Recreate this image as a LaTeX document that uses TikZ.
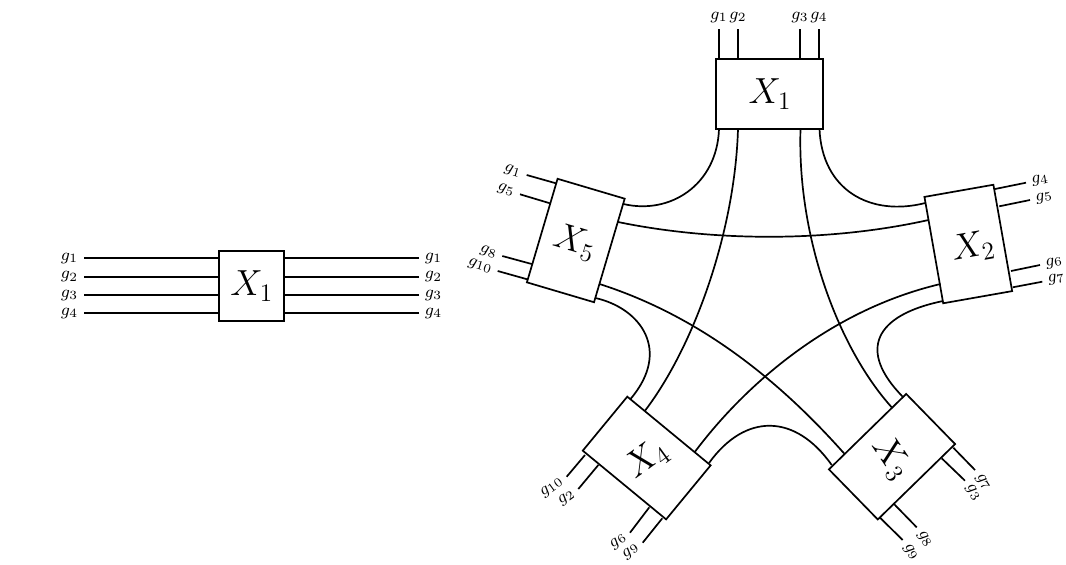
\documentclass[tikz,border=0pt]{standalone}
\usepackage{amsmath}
\usepackage{tikz}
\tikzset{
  gatebox/.style={draw, line width=0.85pt, inner sep=0pt},
  gatetext/.style={inner sep=0pt, font=\LARGE, scale=1.05},
  wirelabel/.style={inner xsep=2.6pt, inner ysep=1.8pt, text height=4.6pt, text depth=2.6pt, font=\footnotesize, scale=1.05},
  wire/.style={line width=0.85pt},
}

\begin{document}
\begin{tikzpicture}[x=0.5pt, y=-0.5pt]
  \useasboundingbox (0,0) rectangle (1066,564);

  \node [gatebox, minimum width=32.5pt, minimum height=35pt] (x0) at (251.7,286) {};
  \node [gatetext] (t0) at (x0) {\(X_1\)};
  \node [wirelabel, anchor=east] (l1) at (84,258) {\(g_1\)};
  \node [wirelabel, anchor=east] (l2) at (84,276.8) {\(g_2\)};
  \node [wirelabel, anchor=east] (l3) at (84,295) {\(g_3\)};
  \node [wirelabel, anchor=east] (l4) at (84,313) {\(g_4\)};
  \node [wirelabel, anchor=west] (r1) at (419,258) {\(g_1\)};
  \node [wirelabel, anchor=west] (r2) at (419,276.8) {\(g_2\)};
  \node [wirelabel, anchor=west] (r3) at (419,295) {\(g_3\)};
  \node [wirelabel, anchor=west] (r4) at (419,313) {\(g_4\)};
  \draw [wire] (l1.east) -- (l1.east -| x0.west) (l2.east) -- (l2.east -| x0.west);
  \draw [wire] (l3.east) -- (l3.east -| x0.west) (l4.east) -- (l4.east -| x0.west);
  \draw [wire] (r1.west) -- (r1.west -| x0.east) (r2.west) -- (r2.west -| x0.east);
  \draw [wire] (r3.west) -- (r3.west -| x0.east) (r4.west) -- (r4.west -| x0.east);

  \node [gatebox, minimum width=53.5pt, minimum height=35pt] (x1) at (769.5,94) {};
  \node [gatebox, minimum width=35pt, minimum height=54pt, rotate=10] (x2) at (968.3,244) {};
  \node [gatebox, minimum width=35pt, minimum height=54pt, rotate=-45.7] (x3) at (892,456.7) {};
  \node [gatebox, minimum width=35pt, minimum height=54pt, rotate=50.5] (x4) at (646.7,458) {};
  \node [gatebox, minimum width=35pt, minimum height=54pt, rotate=-16.5] (x5) at (575.8,240.5) {};
  \node [gatetext] (t1) at (770,94) {\(X_1\)};
  \node [gatetext, rotate=10] (t2) at (973,247) {\(X_2\)};
  \node [gatetext, rotate=-56] (t3) at (892,458) {\(X_3\)};
  \node [gatetext, rotate=36] (t4) at (647,459) {\(X_4\)};
  \node [gatetext, rotate=-16.5] (t5) at (575,242.5) {\(X_5\)};

  \node [wirelabel, anchor=south] (f11) at (719,29) {\(g_1\)};
  \node [wirelabel, anchor=south] (f12) at (738,29) {\(g_2\)};
  \node [wirelabel, anchor=south] (f13) at (800,29) {\(g_3\)};
  \node [wirelabel, anchor=south] (f14) at (819,29) {\(g_4\)};
  \draw [wire] (f11.south) -- (f11.south |- x1.north) (f12.south) -- (f12.south |- x1.north);
  \draw [wire] (f13.south) -- (f13.south |- x1.north) (f14.south) -- (f14.south |- x1.north);

  \node [wirelabel, anchor=west, rotate=10] (f24) at (1026,182.7) {\(g_4\)};
  \node [wirelabel, anchor=west, rotate=10] (f25) at (1030,200) {\(g_5\)};
  \node [wirelabel, anchor=west, rotate=10] (f26) at (1040,265) {\(g_6\)};
  \node [wirelabel, anchor=west, rotate=10] (f27) at (1042.3,281.7) {\(g_7\)};
  \coordinate (n24) at (995,189);
  \coordinate (n25) at (999.3,206.3);
  \coordinate (n26) at (1011,271);
  \coordinate (n27) at (1012.7,287.3);
  \draw [wire] (f24.west) -- (n24) (f25.west) -- (n25) (f26.west) -- (n26) (f27.west) -- (n27);

  \node [wirelabel, anchor=west, rotate=-56] (f37) at (975,470) {\(g_7\)};
  \node [wirelabel, anchor=west, rotate=-56] (f33) at (965,480.7) {\(g_3\)};
  \node [wirelabel, anchor=west, rotate=-56] (f38) at (916.7,527.3) {\(g_8\)};
  \node [wirelabel, anchor=west, rotate=-56] (f39) at (902.7,540) {\(g_9\)};
  \coordinate (n37) at (953.3,447.7);
  \coordinate (n33) at (941.7,458.3);
  \coordinate (n38) at (894,504);
  \coordinate (n39) at (880,517.7);
  \draw [wire] (f37.west) -- (n37) (f33.west) -- (n33) (f38.west) -- (n38) (f39.west) -- (n39);

  \node [wirelabel, anchor=east, rotate=36] (f410) at (566.7,476.7) {\(g_{10}\)};
  \node [wirelabel, anchor=east, rotate=36] (f42) at (578.3,489) {\(g_2\)};
  \node [wirelabel, anchor=east, rotate=36] (f46) at (630,532.7) {\(g_6\)};
  \node [wirelabel, anchor=east, rotate=36] (f49) at (642.7,542.7) {\(g_9\)};
  \coordinate (n410) at (585,455);
  \coordinate (n42) at (598.3,465);
  \coordinate (n46) at (649.3,507.3);
  \coordinate (n49) at (662.3,518.3);
  \draw [wire] (f410.east) -- (n410) (f42.east) -- (n42) (f46.east) -- (n46) (f49.east) -- (n49);

  \node [wirelabel, anchor=east, rotate=-16.5] (f51) at (526.7,175) {\(g_1\)};
  \node [wirelabel, anchor=east, rotate=-16.5] (f55) at (520,194.3) {\(g_5\)};
  \node [wirelabel, anchor=east, rotate=-16.5] (f58) at (502.3,256) {\(g_8\)};
  \node [wirelabel, anchor=east, rotate=-16.5] (f510) at (497.7,271) {\(g_{10}\)};
  \coordinate (n51) at (556,183.3);
  \coordinate (n55) at (550,203.3);
  \coordinate (n58) at (531.7,264);
  \coordinate (n510) at (527.3,279.3);
  \draw [wire] (f51.east) -- (n51) (f55.east) -- (n55) (f58.east) -- (n58) (f510.east) -- (n510);

  \coordinate (b11) at (719,129);
  \coordinate (b12) at (738,129);
  \coordinate (b13) at (800.5,129);
  \coordinate (b14) at (819.5,129);
  \coordinate (a21) at (925.3,203);
  \coordinate (a22) at (928.5,220);
  \coordinate (a23) at (940.5,284);
  \coordinate (a24) at (943,301);
  \coordinate (a31) at (902.7,396.7);
  \coordinate (a32) at (891.7,407.3);
  \coordinate (a33) at (844,453.3);
  \coordinate (a34) at (831.7,465);
  \coordinate (a41) at (630.5,399);
  \coordinate (a42) at (645,410.7);
  \coordinate (a43) at (695,451.7);
  \coordinate (a44) at (709,463);
  \coordinate (a51) at (623.5,204);
  \coordinate (a52) at (618,222);
  \coordinate (a53) at (599.5,284);
  \coordinate (a54) at (595.4,298);

  \draw [wire] (b11) .. controls (717,185) and (670,215) .. (a51);
  \draw [wire] (b12) .. controls (735,230) and (695,345) .. (a42);
  \draw [wire] (b13) .. controls (797,240) and (840,350) .. (a32);
  \draw [wire] (b14) .. controls (822,190) and (870,217) .. (a21);
  \draw [wire] (a52) .. controls (715,242) and (830,242) .. (a22);
  \draw [wire] (a53) .. controls (690,313) and (770,370) .. (a33);
  \draw [wire] (a54) .. controls (640,308) and (672,350) .. (a41);
  \draw [wire] (a44) .. controls (745,413) and (795,413) .. (a34);
  \draw [wire] (a43) .. controls (745,385) and (830,310) .. (a23);
  \draw [wire] (a31) .. controls (857,350) and (875,315) .. (a24);
\end{tikzpicture}
\end{document}
